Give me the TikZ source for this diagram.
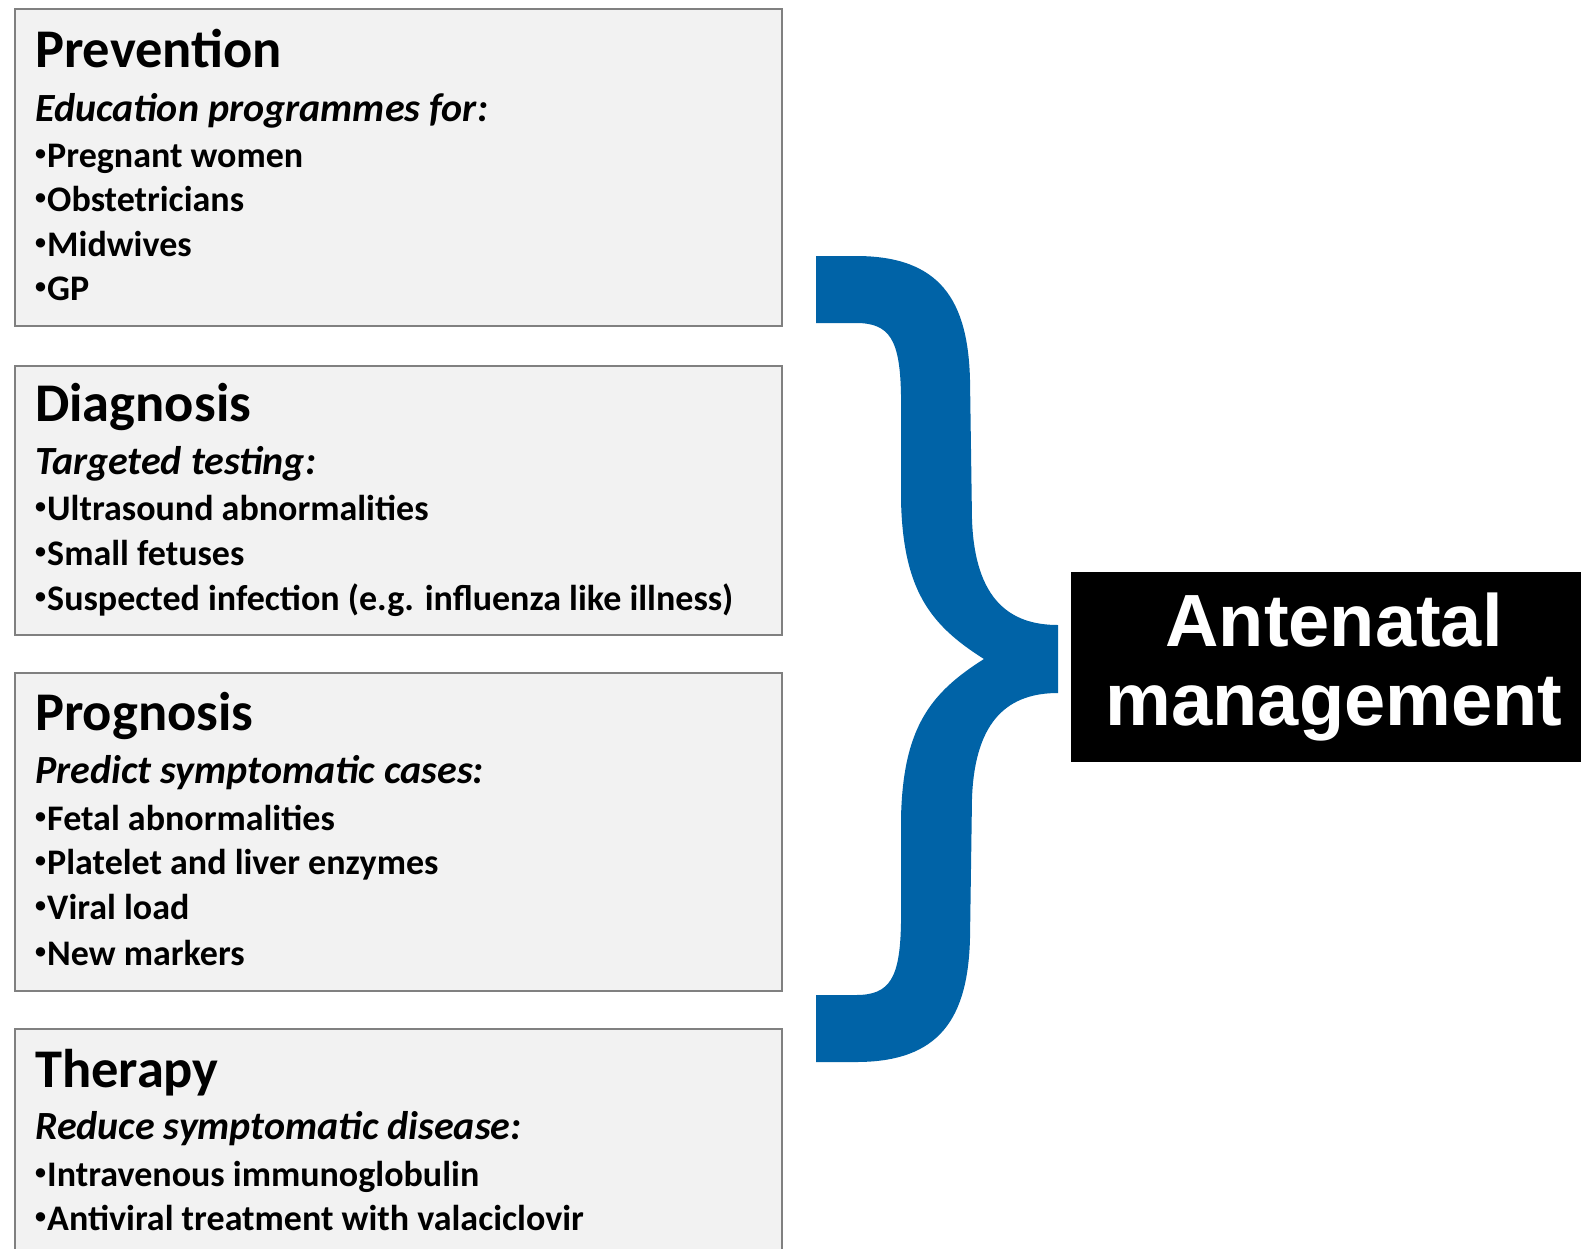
\documentclass[tikz,border=0pt]{standalone}
\usepackage{fontspec}
\setmainfont{Carlito}
\newfontfamily\arialfont{Liberation Sans}
\definecolor{braceblue}{RGB}{0,99,167}
\definecolor{boxfill}{RGB}{242,242,242}
\definecolor{boxline}{RGB}{128,128,128}
\newcommand\smallbul{\raisebox{0.17em}{\fontsize{22}{22}\selectfont•}\hspace{0.03em}}
\begin{document}
\begin{tikzpicture}[x=1pt,y=-1pt,
  panel/.style={draw=boxline, line width=2pt, fill=boxfill, anchor=north west, minimum width=767pt, inner sep=0pt},
  head/.style={anchor=base west, inner sep=0pt, font=\fontsize{54.5}{60}\selectfont\bfseries},
  subhead/.style={anchor=base west, inner sep=0pt, font=\fontsize{40}{46}\selectfont\bfseries\itshape},
  item/.style={anchor=base west, inner sep=0pt, font=\fontsize{36}{44}\selectfont\bfseries},
  target/.style={fill=black, text=white, align=center, inner sep=0pt, minimum width=526pt, minimum height=190pt, font=\arialfont\fontsize{74}{79}\selectfont\bfseries}
]
\useasboundingbox (0,0) rectangle (1581,1248);
\clip (0,0) rectangle (1581,1248);
\fill[white] (0,0) rectangle (1581,1248);

% boxes
\node[panel, minimum height=317pt] (prev) at (14,8) {};
\node[panel, minimum height=269pt] (diag) at (14,365) {};
\node[panel, minimum height=318pt] (prog) at (14,672) {};
\node[panel, minimum height=260pt] (ther) at (14,1028) {};

% Prevention
\node[head] (prevh) at (35,67) {Prevention};
\node[subhead] (prevs) at (35,121) {Education programmes for:};
\node[item] (prev1) at (35,167) {\smallbul Pregnant women};
\node[item] (prev2) at (35,211) {\smallbul Obstetricians};
\node[item] (prev3) at (35,256) {\smallbul Midwives};
\node[item] (prev4) at (35,300) {\smallbul GP};

% Diagnosis
\node[head] (diagh) at (35,421) {Diagnosis};
\node[subhead] (diags) at (35,474) {Targeted testing:};
\node[item] (diag1) at (35,520) {\smallbul Ultrasound abnormalities};
\node[item] (diag2) at (35,565) {\smallbul Small fetuses};
\node[item] (diag3) at (35,610) {\smallbul Suspected infection (e.g. influenza like illness)};

% Prognosis
\node[head] (progh) at (35,730) {Prognosis};
\node[subhead] (progs) at (35,783) {Predict symptomatic cases:};
\node[item] (prog1) at (35,830) {\smallbul Fetal abnormalities};
\node[item] (prog2) at (35,874) {\smallbul Platelet and liver enzymes};
\node[item] (prog3) at (35,919) {\smallbul Viral load};
\node[item] (prog4) at (35,965) {\smallbul New markers};

% Therapy
\node[head] (therh) at (35,1087) {Therapy};
\node[subhead] (thers) at (35,1139) {Reduce symptomatic disease:};
\node[item] (ther1) at (35,1186) {\smallbul Intravenous immunoglobulin};
\node[item] (ther2) at (35,1230) {\smallbul Antiviral treatment with valaciclovir};

% brace
\fill[braceblue]
  (816,256) -- (856,256)
  .. controls (940,256) and (968,300) .. (970,380)
  -- (972,520)
  .. controls (975,600) and (1010,625) .. (1058,625)
  -- (1058,693)
  .. controls (1010,693) and (975,718) .. (972,798)
  -- (970,938)
  .. controls (968,1018) and (940,1062) .. (856,1062)
  -- (816,1062) -- (816,995) -- (856,995)
  .. controls (890,995) and (900,978) .. (901,923)
  -- (901,818)
  .. controls (903,728) and (930,693) .. (984,659)
  .. controls (930,625) and (903,590) .. (901,500)
  -- (901,395)
  .. controls (900,340) and (890,323) .. (856,323)
  -- (816,323) -- cycle;

% target
\node[target] (ante) at (1334,667) {Antenatal\\management};
\end{tikzpicture}
\end{document}
